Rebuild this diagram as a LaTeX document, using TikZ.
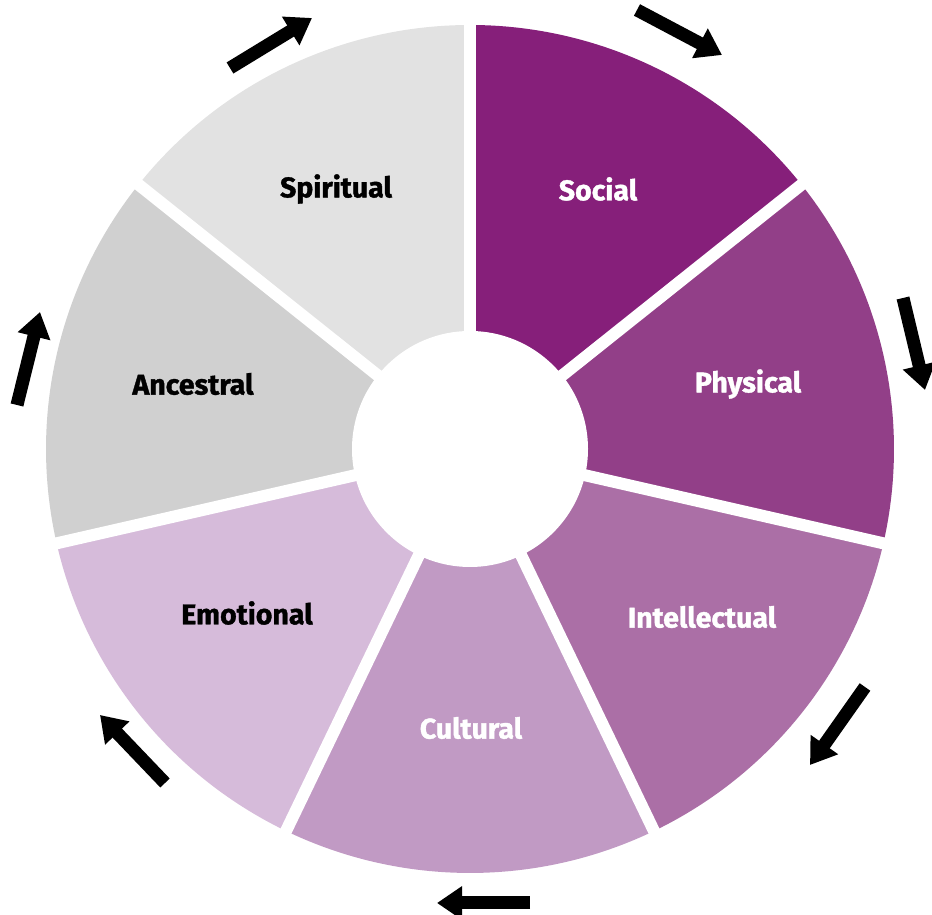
\documentclass[tikz,border=0pt]{standalone}
\usepackage{fontspec}
\setmainfont{Fira Sans}[BoldFeatures={FakeBold=1.3}]
\usetikzlibrary{arrows.meta}
\definecolor{cSocial}{HTML}{861F7A}
\definecolor{cPhysical}{HTML}{923F88}
\definecolor{cIntellectual}{HTML}{AB6FA6}
\definecolor{cCultural}{HTML}{C19AC4}
\definecolor{cEmotional}{HTML}{D6BBDA}
\definecolor{cAncestral}{HTML}{D0D0D0}
\definecolor{cSpiritual}{HTML}{E2E2E2}
\tikzset{
  lbl/.style={font=\fontsize{28.5}{32}\selectfont\bfseries, inner sep=0pt},
  cyc/.style={line width=13pt, -{Triangle[length=25pt,width=32pt]}, black},
  gap/.style={line width=12pt, white}
}
\begin{document}
\begin{tikzpicture}[x=1pt,y=1pt]
\useasboundingbox (0,0) rectangle (932,915);
\coordinate (C) at (470,466);
% sectors
\foreach \a/\c in {90/cSocial, 38.571/cPhysical, -12.857/cIntellectual, -64.286/cCultural, -115.714/cEmotional, -167.143/cAncestral, 141.429/cSpiritual}{
  \fill[\c] (C) -- ++(\a:424) arc[start angle=\a, delta angle=-51.43, radius=424] -- cycle;
}
% gaps
\foreach \a in {90, 38.571, -12.857, -64.286, -115.714, -167.143, 141.429}{
  \draw[gap] (C) -- ++(\a:440);
}
\fill[white] (C) circle[radius=118];
% labels
\node[lbl, text=white] (social) at (598,726) {Social};
\node[lbl, text=white] (physical) at (748,531) {Physical};
\node[lbl, text=white] (intellectual) at (702,298) {Intellectual};
\node[lbl, text=white] (cultural) at (471,187) {Cultural};
\node[lbl, text=black] (emotional) at (247,302) {Emotional};
\node[lbl, text=black] (ancestral) at (193,531) {Ancestral};
\node[lbl, text=black] (spiritual) at (336,726) {Spiritual};
% cycle arrows
\coordinate (s1) at (230,847); \coordinate (e1) at (312,897);
\coordinate (s2) at (637,905); \coordinate (e2) at (722,860);
\coordinate (s3) at (903,617); \coordinate (e3) at (925,525);
\coordinate (s4) at (865,228); \coordinate (e4) at (810,150);
\coordinate (s5) at (530,12);  \coordinate (e5) at (437,12);
\coordinate (s6) at (165,132); \coordinate (e6) at (100,200);
\coordinate (s7) at (17,510);  \coordinate (e7) at (40,603);
\foreach \i in {1,...,7}{ \draw[cyc] (s\i) -- (e\i); }
\end{tikzpicture}
\end{document}
